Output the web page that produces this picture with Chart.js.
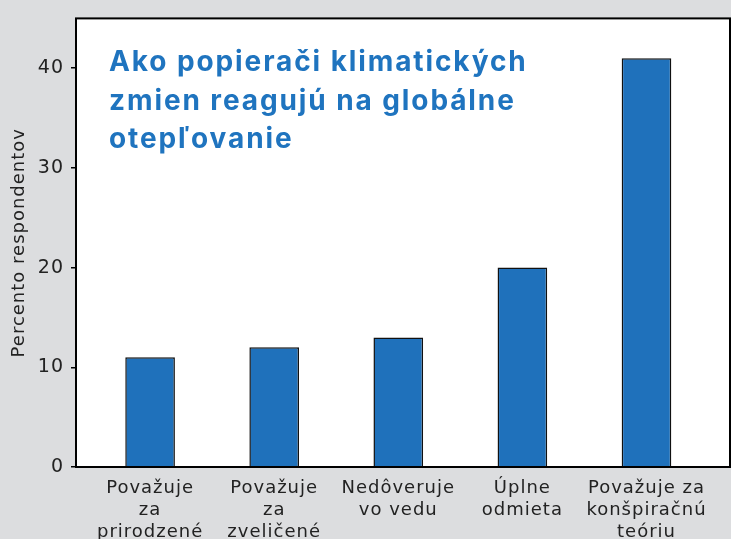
<!DOCTYPE html>
<html lang="sk">
<head>
    <meta charset="UTF-8">
    <title>Ako popierači klimatických zmien reagujú na globálne otepľovanie</title>
    <script src="https://cdn.jsdelivr.net/npm/chart.js"></script>
    <style>
        body { margin: 0; background: #dcdddf; }
        canvas { display: block; }
    </style>
</head>
<body>
    <canvas id="graf" width="731" height="539"></canvas>

    <script>
        // kategórie a hodnoty (percento respondentov)
        const kategorie = [
            ["Považuje", "za", "prirodzené"],
            ["Považuje", "za", "zveličené"],
            ["Nedôveruje", "vo vedu"],
            ["Úplne", "odmieta"],
            ["Považuje za", "konšpiračnú", "teóriu"]
        ];
        const hodnoty = [11, 12, 13, 20, 41];
        const yTicky = [0, 10, 20, 30, 40];
        const nadpis = ["Ako popierači klimatických", "zmien reagujú na globálne", "otepľovanie"];
        const osY = "Percento respondentov";

        const pozadie = {
            id: 'pozadie',
            beforeDraw(chart) {
                const ctx = chart.ctx;
                const a = chart.chartArea;
                ctx.fillStyle = '#dcdddf';
                ctx.fillRect(0, 0, chart.width, chart.height);
                ctx.fillStyle = '#ffffff';
                ctx.fillRect(a.left, a.top, a.right - a.left, a.bottom - a.top);
                // texty osí sú trochu prestrkané
                ctx.letterSpacing = '1px';
            },
            afterDraw(chart) {
                const ctx = chart.ctx;
                const a = chart.chartArea;
                ctx.save();
                ctx.strokeStyle = '#000';
                ctx.lineWidth = 2;
                ctx.strokeRect(a.left, a.top, a.right - a.left, a.bottom - a.top);
                // nadpis vo vnútri grafu
                ctx.fillStyle = '#1f74bf';
                ctx.font = 'bold 28px Inter';
                ctx.letterSpacing = '1.9px';
                ctx.textBaseline = 'alphabetic';
                nadpis.forEach((riadok, i) => {
                    ctx.fillText(riadok, a.left + 33, a.top + 53 + i * 38.5);
                });
                ctx.restore();
                ctx.letterSpacing = '0px';
            }
        };

        new Chart(document.getElementById("graf"), {
            type: 'bar',
            data: {
                datasets: [{
                    data: hodnoty.map((v, i) => ({ x: i, y: v })),
                    backgroundColor: '#1f71bb',
                    borderColor: '#111',
                    borderWidth: 1.5,
                    categoryPercentage: 1,
                    barPercentage: 0.4
                }]
            },
            options: {
                responsive: false,
                animation: false,
                layout: { padding: { top: 16, right: 1, left: 0, bottom: 0 } },
                plugins: {
                    legend: { display: false },
                    tooltip: { enabled: false }
                },
                scales: {
                    x: {
                        type: 'linear',
                        offset: false,
                        min: -0.597,
                        max: 4.673,
                        bounds: 'data',
                        grid: { display: false, offset: false },
                        border: { display: false },
                        afterBuildTicks: (axis) => {
                            axis.ticks = kategorie.map((k, i) => ({ value: i }));
                        },
                        afterFit: (axis) => { axis.height = 72; },
                        ticks: {
                            autoSkip: false,
                            maxRotation: 0,
                            padding: 3,
                            color: '#222',
                            font: { family: 'DejaVu Sans', size: 18, lineHeight: 1.2 },
                            callback: (v) => kategorie[v]
                        }
                    },
                    y: {
                        min: 0,
                        max: 45,
                        border: { display: false },
                        grid: {
                            drawOnChartArea: false,
                            drawTicks: true,
                            tickLength: 5,
                            color: '#000',
                            lineWidth: 1.5
                        },
                        afterBuildTicks: (axis) => {
                            axis.ticks = yTicky.map(v => ({ value: v }));
                        },
                        afterFit: (axis) => { axis.width = 76; },
                        ticks: {
                            padding: 7,
                            color: '#222',
                            font: { family: 'DejaVu Sans', size: 19 }
                        },
                        title: {
                            display: true,
                            text: osY,
                            color: '#222',
                            padding: { top: 9, bottom: 0 },
                            font: { family: 'DejaVu Sans', size: 18 }
                        }
                    }
                }
            },
            plugins: [pozadie]
        });
    </script>
</body>
</html>
